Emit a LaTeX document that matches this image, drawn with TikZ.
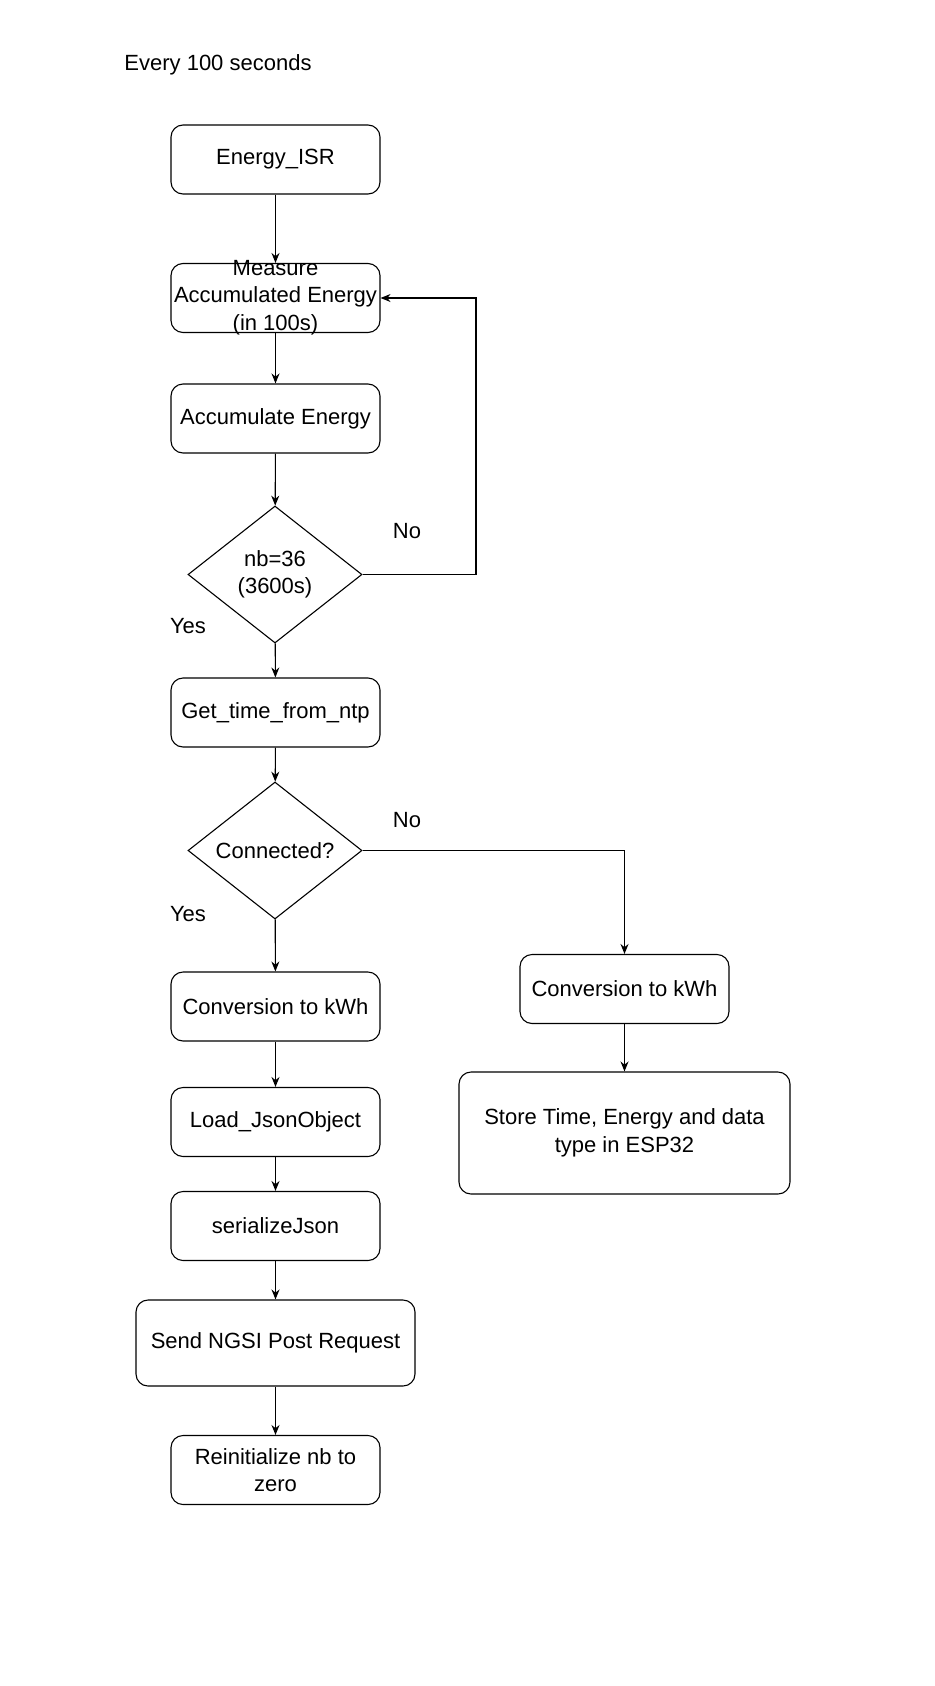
\documentclass[tikz,border=0pt]{standalone}
\usepackage{fontspec}
\setmainfont{Liberation Sans}
\usetikzlibrary{shapes.geometric,arrows.meta}
\newcommand{\fsz}{\fontsize{22}{27.5}\selectfont}
\tikzset{
  stepbox/.style={draw, rounded corners=12pt, line width=1.1pt, minimum width=209pt, minimum height=69pt, align=center, font=\fsz, inner sep=2pt},
  decide/.style={draw, diamond, line width=1.1pt, minimum width=174pt, minimum height=137pt, aspect=1.27, inner sep=0pt, align=center, font=\fsz},
  lbl/.style={font=\fsz, inner sep=0pt},
  conn/.style={line width=1.1pt, -{Stealth[length=10pt,width=8pt]}}
}
\begin{document}
\begin{tikzpicture}[x=1pt,y=-1pt]
\useasboundingbox[fill=white] (0,0) rectangle (934,1686);
\node[lbl] (title) at (218,65) {Every 100 seconds};
\node[stepbox] (isr) at (275.5,159.5) {Energy\_ISR};
\node[stepbox] (meas) at (275.5,298) {};
\node[lbl, align=center] (meastxt) at (275.5,297.5) {Measure\\Accumulated Energy\\(in 100s)};
\node[stepbox] (acc) at (275.5,418.5) {Accumulate Energy};
\node[decide] (d1) at (275,574.5) {nb=36\\(3600s)};
\node[lbl] (no1) at (407,531) {No};
\node[lbl] (yes1) at (188,626) {Yes};
\node[stepbox] (ntp) at (275.5,712.5) {Get\_time\_from\_ntp};
\node[decide] (d2) at (275,850.5) {Connected?};
\node[lbl] (no2) at (407,820) {No};
\node[lbl] (yes2) at (188,914) {Yes};
\node[stepbox] (convl) at (275.5,1006.5) {Conversion to kWh};
\node[stepbox] (load) at (275.5,1122) {Load\_JsonObject};
\node[stepbox] (ser) at (275.5,1226) {serializeJson};
\node[stepbox, minimum width=279pt, minimum height=86pt] (send) at (275.5,1343) {Send NGSI Post Request};
\node[stepbox] (reinit) at (275.5,1470) {Reinitialize nb to\\zero};
\node[stepbox] (convr) at (624.5,989) {Conversion to kWh};
\node[stepbox, minimum width=331pt, minimum height=122pt] (store) at (624.5,1133) {Store Time, Energy and data\\type in ESP32};
\coordinate (loopc1) at (476,574.5);
\coordinate (loopc2) at (476,298);
\coordinate (rc) at (624.5,850.5);
\draw[conn] (isr) -- (meas);
\draw[conn] (meas) -- (acc);
\draw[conn] (acc) -- (d1);
\draw[conn] (d1.east) -- (loopc1) -- (loopc2) -- (meas.east);
\draw[conn] (d1) -- (ntp);
\draw[conn] (ntp) -- (d2);
\draw[conn] (d2) -- (convl);
\draw[conn] (d2.east) -- (rc) -- (convr.north);
\draw[conn] (convr) -- (store);
\draw[conn] (convl) -- (load);
\draw[conn] (load) -- (ser);
\draw[conn] (ser) -- (send);
\draw[conn] (send) -- (reinit);
\end{tikzpicture}
\end{document}
